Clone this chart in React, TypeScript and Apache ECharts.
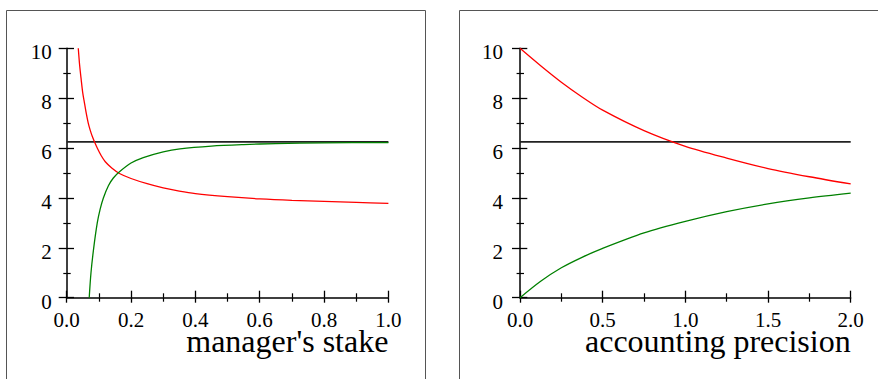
import React, { useEffect, useRef } from 'react';
import * as echarts from 'echarts';

// Left panel: manager's stake
const stakeRedX = [0.036, 0.04, 0.045, 0.05, 0.054, 0.06, 0.067, 0.073, 0.08, 0.088, 0.095, 0.107, 0.12, 0.14, 0.164, 0.2, 0.25, 0.3, 0.35, 0.4, 0.5, 0.6, 0.7, 0.8, 0.9, 1.0];
const stakeRedY = [10, 9.35, 8.75, 8.2, 7.9, 7.45, 7.0, 6.72, 6.45, 6.2, 6.0, 5.7, 5.45, 5.2, 4.98, 4.78, 4.57, 4.4, 4.27, 4.17, 4.05, 3.96, 3.9, 3.86, 3.82, 3.78];
const stakeGreenX = [0.07, 0.0755, 0.084, 0.095, 0.104, 0.114, 0.13, 0.145, 0.164, 0.2, 0.238, 0.3, 0.352, 0.45, 0.55, 0.65, 0.8, 1.0];
const stakeGreenY = [0, 1, 2, 3, 3.55, 4, 4.5, 4.8, 5.05, 5.4, 5.62, 5.85, 5.97, 6.08, 6.14, 6.18, 6.21, 6.22];

// Right panel: accounting precision
const precRedX = [0, 0.125, 0.25, 0.375, 0.5, 0.75, 1.0, 1.25, 1.5, 1.75, 2.0];
const precRedY = [10, 9.3, 8.64, 8.05, 7.52, 6.7, 6.07, 5.6, 5.18, 4.85, 4.56];
const precGreenX = [0, 0.125, 0.25, 0.375, 0.5, 0.75, 1.0, 1.25, 1.5, 1.75, 2.0];
const precGreenY = [0, 0.66, 1.2, 1.62, 1.98, 2.6, 3.06, 3.45, 3.76, 4.0, 4.19];

const benchmark = 6.25;
const xNames = ["manager's stake", 'accounting precision'];
const xMaxes = [1, 2];
const xIntervals = [0.2, 0.5];
const yMax = 10;
const yInterval = 2;

const FONT = 'Liberation Serif';

const zip = (xs: number[], ys: number[]) => xs.map((x, i) => [x, ys[i]]);

const tickText = {
  fontSize: 21,
  fontFamily: FONT,
  color: '#000',
};

function xAxesFor(gridIndex: number) {
  const base = {
    type: 'value',
    gridIndex,
    min: 0,
    max: xMaxes[gridIndex],
    interval: xIntervals[gridIndex],
    position: 'bottom',
    splitLine: { show: false },
  };
  return [
    {
      ...base,
      axisLine: { show: true, onZero: false, lineStyle: { color: '#000', width: 1.5 } },
      axisTick: { show: true, inside: false, length: 5, lineStyle: { color: '#000', width: 1.3 } },
      minorTick: { show: true, splitNumber: 2, length: 4, lineStyle: { color: '#000', width: 1.2 } },
      axisLabel: {
        show: true,
        margin: 12,
        ...tickText,
        formatter: (v: number) => `{t|${v.toFixed(1)}}`,
        rich: { t: { ...tickText } },
      },
    },
    {
      ...base,
      axisLine: { show: false },
      axisTick: { show: true, inside: true, length: 7, lineStyle: { color: '#000', width: 1.3 } },
      minorTick: { show: true, splitNumber: 2, length: 4.4, lineStyle: { color: '#000', width: 1.2 } },
      axisLabel: { show: false },
    },
  ];
}

function yAxesFor(gridIndex: number) {
  const base = {
    type: 'value',
    gridIndex,
    min: 0,
    max: yMax,
    interval: yInterval,
    position: 'left',
    splitLine: { show: false },
  };
  return [
    {
      ...base,
      axisLine: { show: true, onZero: false, lineStyle: { color: '#000', width: 1.5 } },
      axisTick: { show: true, inside: false, length: 8, lineStyle: { color: '#000', width: 1.3 } },
      minorTick: { show: true, splitNumber: 2, length: 3.4, lineStyle: { color: '#000', width: 1.2 } },
      axisLabel: {
        show: true,
        margin: gridIndex === 0 ? 15 : 17,
        ...tickText,
        formatter: (v: number) => `{t|${v}}`,
        rich: { t: { ...tickText, padding: [8, 0, 0, 0] } },
      },
    },
    {
      ...base,
      axisLine: { show: false },
      axisTick: { show: true, inside: true, length: 7.3, lineStyle: { color: '#000', width: 1.3 } },
      minorTick: { show: true, splitNumber: 2, length: 4, lineStyle: { color: '#000', width: 1.2 } },
      axisLabel: { show: false },
    },
  ];
}

function lineSeries(xi: number, yi: number, data: number[][], color: string, width: number) {
  return {
    type: 'line',
    xAxisIndex: xi,
    yAxisIndex: yi,
    data,
    showSymbol: false,
    smooth: 0.3,
    lineStyle: { color, width },
    itemStyle: { color },
    silent: true,
  };
}

export default function App() {
  const ref = useRef<HTMLDivElement>(null);
  useEffect(() => {
    const chart = echarts.init(ref.current!, null, { renderer: 'svg' });
    const option = {
      animation: false,
      backgroundColor: '#fff',
      textStyle: { fontFamily: FONT },
      grid: [
        { left: 66.7, top: 48.3, width: 321.7, height: 249.4 },
        { left: 520, top: 48.3, width: 330.7, height: 249.4 },
      ],
      xAxis: [...xAxesFor(0), ...xAxesFor(1)],
      yAxis: [...yAxesFor(0), ...yAxesFor(1)],
      series: [
        lineSeries(0, 0, [[0, benchmark], [xMaxes[0], benchmark]], '#222', 1.7),
        lineSeries(0, 0, zip(stakeRedX, stakeRedY), '#ff0000', 1.3),
        lineSeries(0, 0, zip(stakeGreenX, stakeGreenY), '#008000', 1.3),
        lineSeries(2, 2, [[0, benchmark], [xMaxes[1], benchmark]], '#222', 1.7),
        lineSeries(2, 2, zip(precRedX, precRedY), '#ff0000', 1.3),
        lineSeries(2, 2, zip(precGreenX, precGreenY), '#008000', 1.3),
      ],
      graphic: [
        {
          type: 'rect',
          shape: { x: 6.5, y: 10.5, width: 419, height: 400 },
          style: { fill: 'none', stroke: '#555', lineWidth: 1 },
          silent: true,
        },
        {
          type: 'rect',
          shape: { x: 459.5, y: 10.5, width: 500, height: 400 },
          style: { fill: 'none', stroke: '#555', lineWidth: 1 },
          silent: true,
        },
        {
          type: 'text',
          x: 388.4,
          y: 341,
          style: {
            text: xNames[0],
            align: 'right',
            verticalAlign: 'middle',
            fontSize: 32,
            fontFamily: FONT,
            fill: '#000',
          },
          silent: true,
        },
        {
          type: 'text',
          x: 850.7,
          y: 341,
          style: {
            text: xNames[1],
            align: 'right',
            verticalAlign: 'middle',
            fontSize: 32,
            fontFamily: FONT,
            fill: '#000',
          },
          silent: true,
        },
      ],
    };
    chart.setOption(option as any);
    return () => chart.dispose();
  }, []);
  return (
    <div
      ref={ref}
      style={{ position: 'absolute', left: 0, top: 0, width: 878, height: 379 }}
    />
  );
}
